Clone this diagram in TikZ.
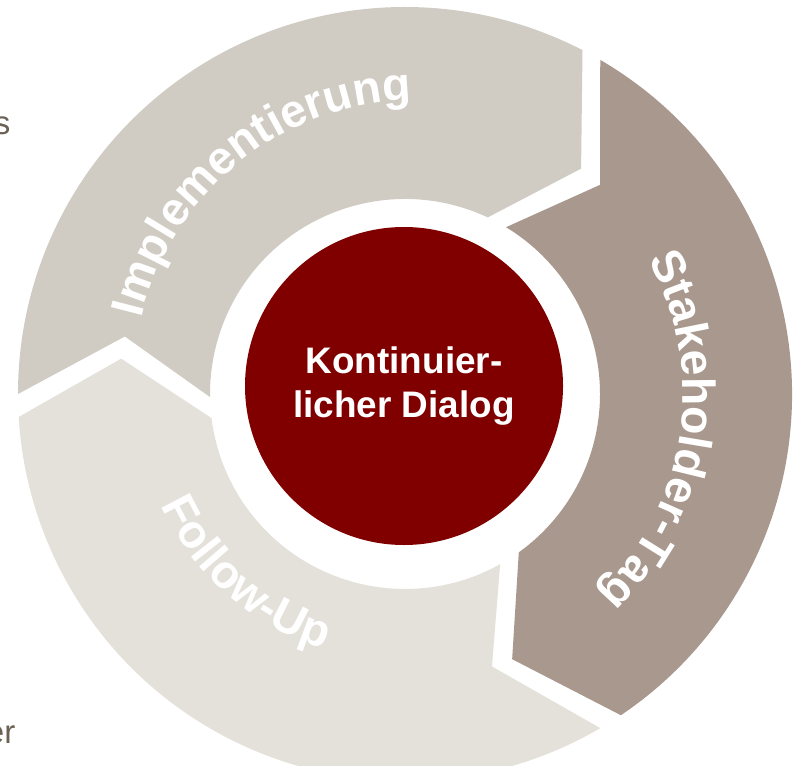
\documentclass[tikz,border=0pt]{standalone}
\usepackage{fontspec}
\setmainfont{Liberation Sans}
\usetikzlibrary{decorations.text}
\definecolor{implc}{HTML}{D0CCC3}
\definecolor{stakec}{HTML}{A8988E}
\definecolor{followc}{HTML}{E4E1DB}
\definecolor{kernred}{HTML}{800000}
\definecolor{sidetext}{HTML}{6B6256}
\newcommand{\segfont}{\color{white}\bfseries\fontsize{13.2}{15}\selectfont}
\begin{document}
\begin{tikzpicture}[
  kern/.style={circle, fill=kernred, minimum size=3.18cm, inner sep=0pt, text=white,
    font=\bfseries\fontsize{10.5}{12.5}\selectfont, align=center},
  sidelabel/.style={anchor=base east, inner sep=0pt, text=sidetext, font=\fontsize{9.4}{11}\selectfont}
]
\useasboundingbox (0,0) rectangle (7.98,7.65);
\def\Rout{3.87}
\def\Rin{1.95}
\def\Rmid{2.86}
\begin{scope}[shift={(4.05,3.71)}]
  % Implementierung
  \fill[implc] (180:\Rout) arc[start angle=180, end angle=62.7, radius=\Rout]
    -- (52:\Rmid) -- (64.9:\Rin) arc[start angle=64.9, end angle=180.9, radius=\Rin]
    -- (168.4:\Rmid) -- cycle;
  % Stakeholder-Tag
  \fill[stakec] (59.7:\Rout) arc[start angle=59.7, end angle=-56.1, radius=\Rout]
    -- (-68:\Rmid) -- (-54.3:\Rin) arc[start angle=-54.3, end angle=58.8, radius=\Rin]
    -- (47:\Rmid) -- cycle;
  % Follow-Up
  \fill[followc] (-59.7:\Rout) arc[start angle=-59.7, end angle=-176.6, radius=\Rout]
    -- (-187.1:\Rmid) -- (-172.9:\Rin) arc[start angle=-172.9, end angle=-60.8, radius=\Rin]
    -- (-72.3:\Rmid) -- cycle;
  % labels along the arcs
  \path[decorate, decoration={text along path, text align=center,
      text={|\segfont|Stakeholder-Tag}}]
    (50:2.78) arc[start angle=50, end angle=-67, radius=2.78];
  \path[decorate, decoration={text along path, text align=center,
      text={|\segfont|Follow-Up}}]
    (178.5:2.68) arc[start angle=178.5, end angle=278.5, radius=2.68];
\end{scope}
\begin{scope}[shift={(4.17,3.82)}]
  \path[decorate, decoration={text along path, text align=center,
      text={|\segfont|Implementierung}}]
    (186:2.83) arc[start angle=186, end angle=72, radius=2.83];
\end{scope}
\node[kern] (dialog) at (4.04,3.79) {Kontinuier-\\licher Dialog};
\node[sidelabel] (sidetop) at (0.11,6.30) {s};
\node[sidelabel] (sidebottom) at (0.16,0.22) {er};
\end{tikzpicture}
\end{document}
